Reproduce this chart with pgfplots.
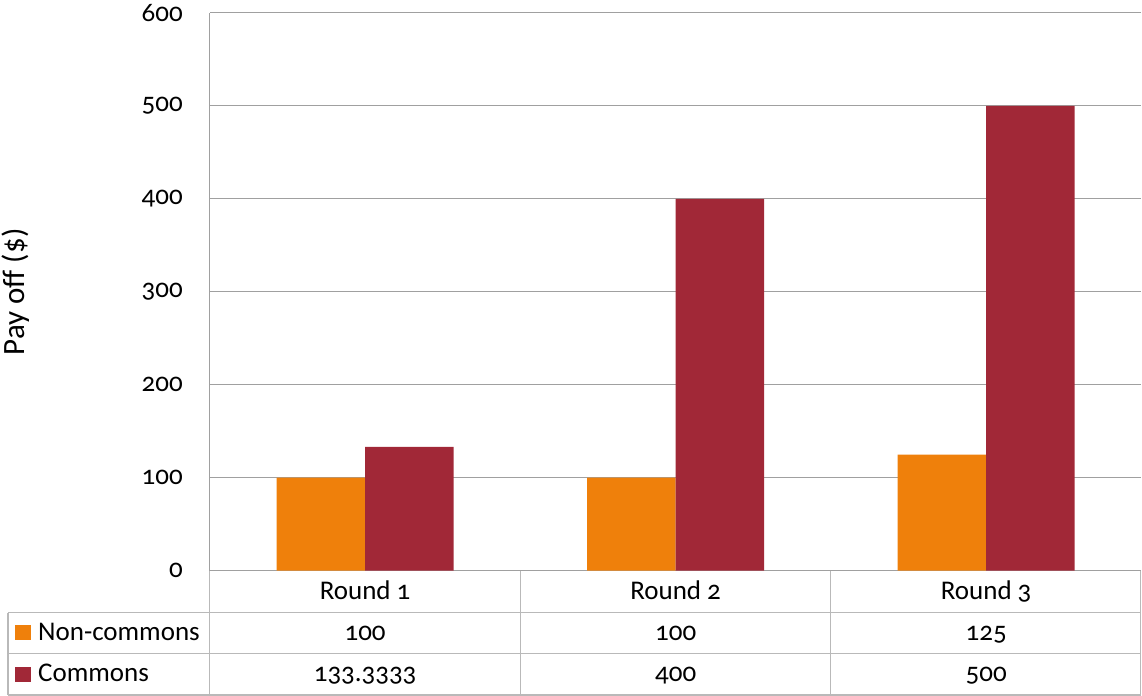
\documentclass[border=0pt]{standalone}
\usepackage{pgfplots}
\pgfplotsset{compat=1.18}
\usepackage{fontspec}
\setmainfont{Carlito}[Numbers=OldStyle]
\definecolor{noncommons}{RGB}{239,128,11}
\definecolor{commons}{RGB}{161,40,55}
\definecolor{gridgray}{RGB}{160,160,160}
\definecolor{tablegray}{RGB}{185,185,185}

\begin{document}
\fontsize{27}{32}\selectfont
\begin{tikzpicture}[x=1pt,y=1pt]
\path (0,0) rectangle (1142,696);
\begin{axis}[
  at={(210pt,125pt)}, anchor=south west,
  scale only axis, width=932pt, height=558pt,
  xmin=0, xmax=3, ymin=0, ymax=600,
  ytick={0,100,...,600},
  xtick={0.5,1.5,2.5},
  xticklabels={Round 1, Round 2, Round 3},
  major tick length=0pt,
  ymajorgrids, grid style={gridgray, line width=1pt},
  axis x line*=bottom, axis y line*=left,
  axis line style={gridgray, line width=1.2pt},
  ybar=0pt, bar width=88.5pt,
  /pgf/number format/assume math mode=true,
  ticklabel style={font=\fontsize{27}{32}\selectfont},
  yticklabel style={anchor=east, inner sep=0pt, xshift=-27pt},
  xticklabel style={anchor=base, inner sep=0pt, yshift=-29pt},
  ylabel={Pay off (\$)},
  ylabel style={at={(axis description cs:-0.2082,0.5)}, anchor=center, inner sep=0pt, font=\fontsize{31}{36}\selectfont},
  clip=false,
]
\addplot[fill=noncommons, draw=none] coordinates {(0.5,100) (1.5,100) (2.5,125)};
\addplot[fill=commons, draw=none] coordinates {(0.5,133.3333) (1.5,400) (2.5,500)};
\end{axis}

% data table under the plot
\begin{scope}[tablegray, line width=1.2pt]
  \draw (8,83) -- (1141.4,83);
  \draw (8,42) -- (1141.4,42);
  \draw (8,0.6) -- (1141.4,0.6);
  \draw (8,0.6) -- (8,83);
  \draw (210,0.6) -- (210,125);
  \draw (520.7,0.6) -- (520.7,125);
  \draw (831.3,0.6) -- (831.3,125);
  \draw (1141.4,0.6) -- (1141.4,125);
\end{scope}

\fill[noncommons] (15,56) rectangle (31,71);
\fill[commons] (15,14) rectangle (31,29);
\node[anchor=base west, inner sep=0pt] at (38,55) {Non-commons};
\node[anchor=base west, inner sep=0pt] at (38,14) {Commons};

\node[anchor=base, inner sep=0pt] at (365.3,55) {100};
\node[anchor=base, inner sep=0pt] at (676,55) {100};
\node[anchor=base, inner sep=0pt] at (986.7,55) {125};
\node[anchor=base, inner sep=0pt] at (365.3,14) {133.3333};
\node[anchor=base, inner sep=0pt] at (676,14) {400};
\node[anchor=base, inner sep=0pt] at (986.7,14) {500};
\end{tikzpicture}
\end{document}
